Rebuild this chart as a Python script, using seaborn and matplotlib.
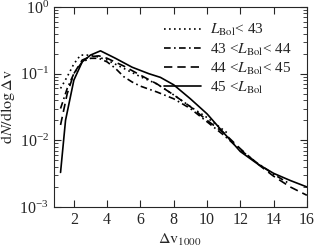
import numpy as np
import pandas as pd
import matplotlib
matplotlib.use("Agg")
import matplotlib.pyplot as plt
import seaborn as sns

## dados
labels = [r"$L_{\rm Bol}$< 43", r"43 <$L_{\rm Bol}$< 44", r"44 <$L_{\rm Bol}$< 45", r"45 <$L_{\rm Bol}$"]

x_l43 = [1.2, 1.6, 2.0, 2.4, 2.8, 3.4, 4.0, 5.0, 6.0, 7.0, 8.0, 9.0, 10.0, 11.2]
y_l43 = [0.06, 0.09, 0.14, 0.19, 0.19, 0.18, 0.16, 0.12, 0.09, 0.07, 0.048, 0.032, 0.022, 0.013]

x_l44 = [1.2, 1.6, 2.0, 2.5, 3.0, 3.5, 4.0, 4.5, 5.0, 5.5, 6.0, 7.0, 8.0, 9.0, 10.0, 11.0, 12.0, 13.0, 14.0, 15.0]
y_l44 = [0.03, 0.06, 0.10, 0.15, 0.17, 0.17, 0.15, 0.12, 0.09, 0.075, 0.065, 0.053, 0.042, 0.03, 0.019, 0.012, 0.0072, 0.0046, 0.0031, 0.0022]

x_l45 = [1.2, 1.6, 2.0, 2.5, 3.0, 3.5, 4.0, 5.0, 6.0, 7.0, 8.0, 9.0, 10.0, 11.0, 12.0, 13.0, 14.0, 15.0, 16.0]
y_l45 = [0.017, 0.05, 0.10, 0.16, 0.18, 0.185, 0.17, 0.13, 0.095, 0.07, 0.048, 0.032, 0.02, 0.013, 0.0075, 0.0045, 0.0029, 0.002, 0.0015]

x_g45 = [1.2, 1.5, 2.0, 2.5, 3.0, 3.6, 4.5, 5.5, 6.5, 7.2, 8.0, 9.0, 10.0, 11.0, 12.0, 13.0, 14.0, 15.0, 16.0]
y_g45 = [0.0033, 0.02, 0.08, 0.15, 0.19, 0.22, 0.17, 0.125, 0.10, 0.088, 0.068, 0.042, 0.025, 0.013, 0.0068, 0.0045, 0.0032, 0.0025, 0.002]

series = [(x_l43, y_l43), (x_l44, y_l44), (x_l45, y_l45), (x_g45, y_g45)]
dashes = [(1, 2), (4, 2, 1, 2), (5, 3), ()]

sns.set_style("ticks")
plt.rcParams['font.family'] = ['Liberation Serif', 'DejaVu Serif']
plt.rcParams['mathtext.fontset'] = 'stix'

fig = plt.figure(figsize=(3.17, 2.5), dpi=100)
ax = fig.add_axes([0.170, 0.172, 0.798, 0.800])

for (xs, ys), lab, d in zip(series, labels, dashes):
    df = pd.DataFrame({'x': xs, 'y': ys})
    sns.lineplot(data=df, x='x', y='y', ax=ax, color='black', lw=1.2, label=lab)
    ln = ax.get_lines()[-1]
    if d:
        ln.set_dashes(d)

ax.set_yscale('log')
ax.set_xlim(0.8, 16)
ax.set_ylim(1e-3, 1)
ax.set_xticks([2, 4, 6, 8, 10, 12, 14, 16])
ax.tick_params(direction='in', top=True, right=True, labelsize=11.5, length=5, width=0.8)
ax.tick_params(which='minor', direction='in', top=False, right=True, length=3, width=0.6)
ax.set_xlabel(r"$\Delta\mathrm{v}_{1000}$", fontsize=11.5, labelpad=3)
ax.set_ylabel(r"$\mathrm{d}N/\mathrm{d}\log\Delta\mathrm{v}$", fontsize=11.5, labelpad=2)

ax.legend(loc='upper right', frameon=False, fontsize=11, handlelength=2.4,
          labelspacing=0.2, borderaxespad=0.6, handletextpad=0.6)
for s in ax.spines.values():
    s.set_linewidth(0.8)

fig.savefig('out.png', dpi=100)
